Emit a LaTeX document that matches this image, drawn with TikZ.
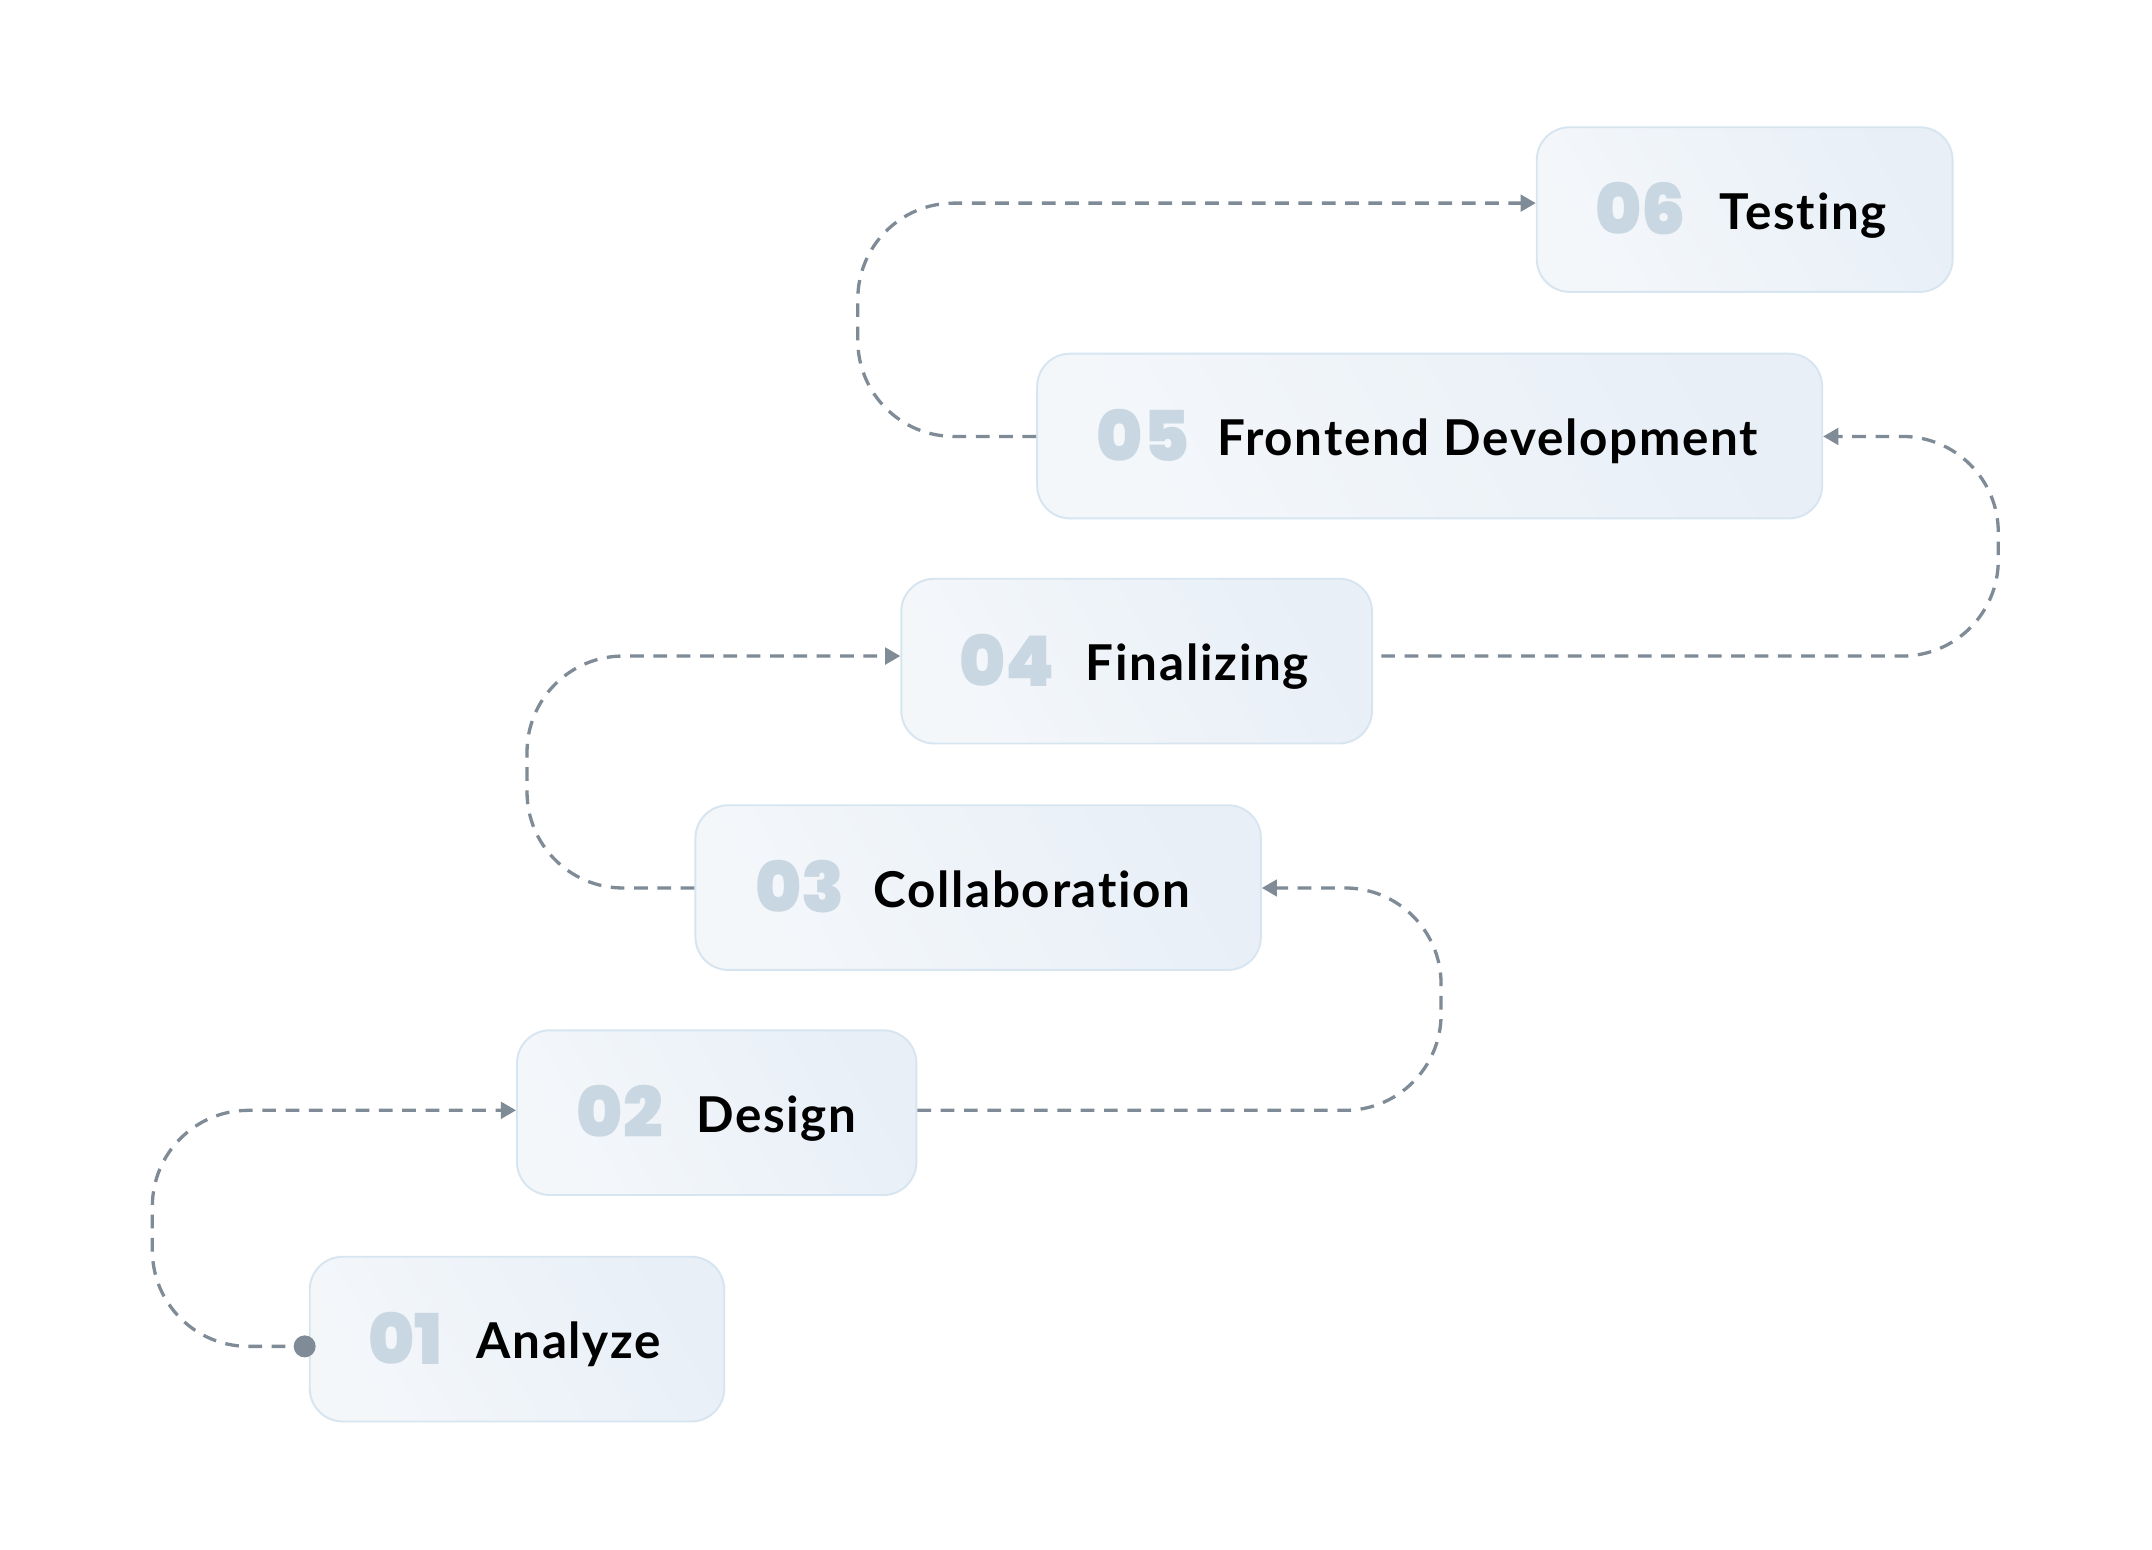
\documentclass[tikz,border=0pt]{standalone}
\usepackage{fontspec}
\setmainfont{Lato}[Ligatures=NoCommon, LetterSpace=3.5]
\newfontfamily\numfont{Poppins Black}
\usetikzlibrary{arrows.meta}
\definecolor{boxA}{HTML}{F4F7FA}
\definecolor{boxB}{HTML}{E8EFF7}
\definecolor{boxline}{HTML}{D7E5F1}
\definecolor{numcol}{HTML}{C9D7E2}
\definecolor{conncol}{HTML}{7F8B96}
\tikzset{
  box/.style={rounded corners=24pt, draw=boxline, line width=1.4pt,
    left color=boxA, right color=boxB, shading angle=120,
    minimum height=120pt, inner sep=0pt, anchor=north west},
  num/.style={font=\numfont\fontsize{51}{56}\selectfont, text=numcol, inner sep=0pt, anchor=base west},
  lab/.style={font=\bfseries\fontsize{36}{42}\selectfont, text=black, inner sep=0pt, anchor=base west},
  conn/.style={draw=conncol, line width=2.4pt, dash pattern=on 10pt off 7pt, rounded corners=70pt},
  arr/.style={-{Triangle[length=11pt,width=12pt]}}
}
\begin{document}
\begin{tikzpicture}[x=1pt,y=-1pt]
\useasboundingbox (0,0) rectangle (1568,1129);
\fill[white] (0,0) rectangle (1568,1129);
% boxes
\node[box, minimum width=303pt] (b6) at (1119,92) {};
\node[box, minimum width=572pt] (b5) at (755,257) {};
\node[box, minimum width=343pt] (b4) at (656,421) {};
\node[box, minimum width=412pt] (b3) at (506,586) {};
\node[box, minimum width=291pt] (b2) at (376,750) {};
\node[box, minimum width=302pt] (b1) at (225,915) {};
% numbers
\node[num] (n6) at (1162,171) {06};
\node[num] (n5) at (799,336) {05};
\node[num] (n4) at (699,500) {04};
\node[num] (n3) at (550,665) {03};
\node[num] (n2) at (420,829) {02};
\node[num] (n1) at (268,994) {01};
% labels
\node[lab] (t6) at (1253,167) {Testing};
\node[lab] (t5) at (887,332) {Frontend Development};
\node[lab] (t4) at (791,496) {Finalizing};
\node[lab] (t3) at (636,661) {Collaboration};
\node[lab] (t2) at (507,825) {Design};
\node[lab] (t1) at (347,990) {Analyze};
% connectors
\draw[conn, arr] (b1.west |- 0,981) -- (111,981) -- (111,809) -- (b2.west |- 0,809);
\draw[conn, arr] (b2.east |- 0,809) -- (1050,809) -- (1050,647) -- (b3.east |- 0,647);
\draw[conn, arr] (b3.west |- 0,647) -- (384,647) -- (384,478) -- (b4.west |- 0,478);
\draw[conn, arr] ([xshift=6pt]b4.east |- 0,478) -- (1456,478) -- (1456,318) -- (b5.east |- 0,318);
\draw[conn, arr] (b5.west |- 0,318) -- (625,318) -- (625,148) -- (b6.west |- 0,148);
\fill[conncol] (222,981) circle (8pt);
\end{tikzpicture}
\end{document}
